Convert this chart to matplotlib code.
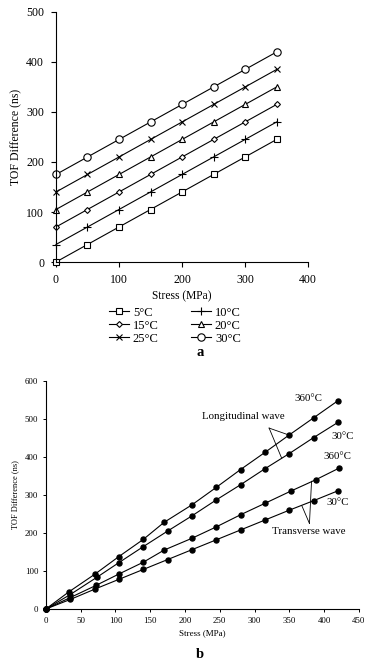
import numpy as np
import matplotlib
matplotlib.use("Agg")
import matplotlib.pyplot as plt

plt.rcParams['font.family'] = ['Liberation Serif', 'DejaVu Serif']

# --- panel a: TOF difference vs stress at several temperatures
stress_a = [0, 50, 100, 150, 200, 250, 300, 350]
tof_5 = [0, 35, 70, 105, 140, 175, 210, 245]
tof_10 = [35, 70, 105, 140, 175, 210, 245, 280]
tof_15 = [70, 105, 140, 175, 210, 245, 280, 315]
tof_20 = [105, 140, 175, 210, 245, 280, 315, 350]
tof_25 = [140, 175, 210, 245, 280, 315, 350, 385]
tof_30 = [175, 210, 245, 280, 315, 350, 385, 420]
labels_a = ['5°C', '10°C', '15°C', '20°C', '25°C', '30°C']

# --- panel b: longitudinal / transverse waves
x_l360 = [0, 33, 70, 105, 140, 170, 210, 245, 280, 315, 350, 385, 420]
y_l360 = [0, 45, 91, 138, 183, 228, 274, 320, 367, 412, 458, 503, 548]
x_l30 = [0, 35, 73, 105, 140, 175, 210, 245, 280, 315, 350, 385, 420]
y_l30 = [0, 38, 83, 122, 164, 205, 245, 287, 327, 369, 409, 451, 491]
x_t360 = [0, 35, 72, 105, 140, 170, 210, 245, 280, 315, 352, 388, 422]
y_t360 = [0, 30, 62, 92, 123, 155, 186, 216, 248, 278, 310, 340, 371]
x_t30 = [0, 35, 70, 105, 140, 175, 210, 245, 280, 315, 350, 385, 420]
y_t30 = [0, 25, 52, 78, 104, 130, 156, 182, 208, 234, 260, 285, 311]

fig = plt.figure(figsize=(3.73, 6.66), dpi=100)

# top plot
ax1 = fig.add_axes([0.150, 0.6066, 0.676, 0.3754])
series = [tof_5, tof_10, tof_15, tof_20, tof_25, tof_30]
markers = ['s', '+', 'D', '^', 'x', 'o']
msizes = [5, 5.5, 3, 5, 5, 5.3]
handles = []
for ys, m, ms, lab in zip(series, markers, msizes, labels_a):
    h, = ax1.plot(stress_a, ys, color='black', lw=0.8, marker=m, ms=ms,
                  mfc='white', mec='black', mew=0.8, label=lab, clip_on=False)
    handles.append(h)
ax1.set_xlim(0, 400)
ax1.set_ylim(0, 500)
ax1.set_xticks(range(0, 401, 100))
ax1.set_yticks(range(0, 501, 100))
ax1.spines['top'].set_visible(False)
ax1.spines['right'].set_visible(False)
ax1.tick_params(direction='out', length=3.5, width=0.8, labelsize=8.5, pad=5)
ax1.set_xlabel('Stress (MPa)', fontsize=8.3, labelpad=3)
ax1.set_ylabel('TOF Difference (ns)', fontsize=8.5, labelpad=3)

order = [0, 2, 4, 1, 3, 5]
fig.legend([handles[i] for i in order], [labels_a[i] for i in order],
           loc='center', bbox_to_anchor=(0.469, 0.511), ncol=2, frameon=False,
           fontsize=9, handlelength=1.6, handletextpad=0.3, labelspacing=0.08,
           columnspacing=2.6, borderpad=0)
fig.text(0.536, 0.470, 'a', fontsize=10.5, fontweight='bold', ha='center', va='center')

# bottom plot
ax2 = fig.add_axes([0.123, 0.0856, 0.839, 0.3424])
for xs, ys in [(x_l360, y_l360), (x_l30, y_l30), (x_t360, y_t360), (x_t30, y_t30)]:
    ax2.plot(xs, ys, color='black', lw=0.8, marker='o', ms=3.6, clip_on=False)
ax2.set_xlim(0, 450)
ax2.set_ylim(0, 600)
ax2.set_xticks(range(0, 451, 50))
ax2.set_yticks(range(0, 601, 100))
ax2.spines['top'].set_visible(False)
ax2.spines['right'].set_visible(False)
ax2.tick_params(direction='out', length=2.5, width=0.7, labelsize=6.3, pad=3)
ax2.set_xlabel('Stress (MPa)', fontsize=6.5, labelpad=3)
ax2.set_ylabel('TOF Difference (ns)', fontsize=6, labelpad=4)

ann = 7.8
ax2.text(378, 553, '360°C', fontsize=ann, ha='center', va='center')
ax2.text(284, 507, 'Longitudinal wave', fontsize=ann, ha='center', va='center')
ax2.text(427, 453, '30°C', fontsize=ann, ha='center', va='center')
ax2.text(419, 401, '360°C', fontsize=ann, ha='center', va='center')
ax2.text(420, 279, '30°C', fontsize=ann, ha='center', va='center')
ax2.text(378, 203, 'Transverse wave', fontsize=ann, ha='center', va='center')
# leader lines
ax2.plot([321, 349], [476, 458], color='black', lw=0.6)
ax2.plot([321, 339], [476, 397], color='black', lw=0.6)
ax2.plot([379, 382], [225, 336], color='black', lw=0.6)
ax2.plot([379, 368], [225, 272], color='black', lw=0.6)

fig.text(0.536, 0.017, 'b', fontsize=10.5, fontweight='bold', ha='center', va='center')

fig.savefig('out.png', dpi=100)
